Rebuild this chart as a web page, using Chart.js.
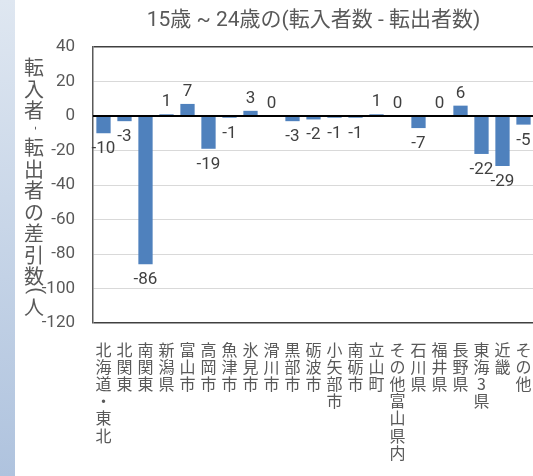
<!DOCTYPE html>
<html>
<head>
<meta charset="utf-8">
<script src="https://cdn.jsdelivr.net/npm/chart.js@4"></script>
<style>
  html, body { margin: 0; padding: 0; width: 533px; height: 476px; overflow: hidden; background: #fff; }
  #band { position: absolute; left: 0; top: 0; width: 15px; height: 476px; background: linear-gradient(#dfe7f1, #afc3de); }
  #wrap { position: absolute; left: 0; top: 0; width: 560px; height: 476px; }
</style>
</head>
<body>
<div id="band"></div>
<div id="wrap"><canvas id="c" width="560" height="476"></canvas></div>
<script>
// Net migration of residents aged 15-24, by origin / destination
const categories = ['北海道・東北', '北関東', '南関東', '新潟県', '富山市', '高岡市', '魚津市', '氷見市', '滑川市', '黒部市', '砺波市', '小矢部市', '南砺市', '立山町', 'その他富山県内', '石川県', '福井県', '長野県', '東海3県', '近畿', 'その他'];
const values = [-10, -3, -86, 1, 7, -19, -1, 3, 0, -3, -2, -1, -1, 1, 0, -7, 0, 6, -22, -29, -5];
const yMin = -120;
const yMax = 40;
const yStep = 20;
const chartTitle = '15歳 ~ 24歳の(転入者数 - 転出者数)';
const yAxisTitle = '転入者 - 転出者の差引数(人)';

const TEXT = '#595959';
const LABEL = '#404040';
const LATIN = 'Roboto';
const CJK = "'Noto Sans CJK JP'";

const isWide = ch => ch.codePointAt(0) > 0x2E7F;

// Title, value labels, zero line and the stacked vertical axis title
const decorations = {
  id: 'decorations',
  afterDatasetsDraw(chart) {
    const { ctx, chartArea, scales } = chart;
    const y0 = scales.y.getPixelForValue(0);
    ctx.save();
    ctx.strokeStyle = '#000';
    ctx.lineWidth = 2;
    ctx.beginPath();
    ctx.moveTo(chartArea.left, y0);
    ctx.lineTo(chartArea.right, y0);
    ctx.stroke();

    ctx.font = `17px ${LATIN}`;
    ctx.fillStyle = LABEL;
    ctx.textAlign = 'center';
    ctx.textBaseline = 'alphabetic';
    chart.getDatasetMeta(0).data.forEach((bar, i) => {
      const v = values[i];
      const y = v < 0 ? bar.y + 20 : bar.y - 8;
      ctx.fillText(String(v), bar.x, y);
    });
    ctx.restore();
  },
  afterDraw(chart) {
    const { ctx, chartArea } = chart;
    ctx.save();
    ctx.fillStyle = TEXT;
    ctx.font = `21px ${LATIN}, ${CJK}`;
    ctx.textAlign = 'center';
    ctx.textBaseline = 'middle';
    ctx.fillText(chartTitle, (chartArea.left + chartArea.right) / 2, 21);

    // vertical title, clipped to the axis box
    ctx.beginPath();
    ctx.rect(0, 0, 90, 318);
    ctx.clip();
    const cx = 34;
    let y = 57;
    const step = 21.5;
    for (const ch of yAxisTitle) {
      if (isWide(ch)) {
        ctx.font = `20px ${CJK}`;
        ctx.textAlign = 'center';
        ctx.textBaseline = 'middle';
        ctx.fillText(ch, cx, y + step / 2);
        y += step;
      } else {
        const size = ch === '-' ? 12 : 20;
        ctx.font = `${size}px ${LATIN}`;
        const w = ch === ' ' ? 3 : ctx.measureText(ch).width;
        ctx.save();
        ctx.translate(cx + 1, y + w / 2);
        ctx.rotate(Math.PI / 2);
        ctx.textAlign = 'center';
        ctx.textBaseline = 'middle';
        ctx.fillText(ch, 0, 0);
        ctx.restore();
        y += w + 2;
      }
    }
    ctx.restore();
  }
};

new Chart(document.getElementById('c'), {
  type: 'bar',
  data: {
    labels: categories,
    datasets: [{
      data: values,
      backgroundColor: '#4f81bd',
      barPercentage: 0.68,
      categoryPercentage: 1
    }]
  },
  options: {
    responsive: false,
    animation: false,
    events: [],
    layout: { padding: { top: 47, left: 0, right: 26, bottom: 0 } },
    plugins: {
      legend: { display: false },
      tooltip: { enabled: false },
      title: { display: false }
    },
    scales: {
      x: {
        grid: { display: false, drawTicks: false },
        border: { display: false },
        ticks: {
          autoSkip: false,
          maxRotation: 0,
          minRotation: 0,
          padding: 18,
          color: TEXT,
          font: { family: CJK, size: 16, lineHeight: '17.2px' },
          callback: (v, i) => Array.from(categories[i])
        },
        afterFit(scale) { scale.height = 153; }
      },
      y: {
        min: yMin,
        max: yMax,
        ticks: {
          stepSize: yStep,
          padding: 18,
          color: TEXT,
          font: { family: LATIN, size: 17 }
        },
        grid: {
          drawTicks: false,
          color: c => (c.tick.value === yMax || c.tick.value === yMin) ? '#404040' : '#d9d9d9',
          lineWidth: c => (c.tick.value === yMax || c.tick.value === yMin) ? 1.5 : 1
        },
        border: { display: true, color: '#595959', width: 1.5 },
        afterFit(scale) { scale.width = 93; }
      }
    }
  },
  plugins: [decorations]
});
</script>
</body>
</html>
